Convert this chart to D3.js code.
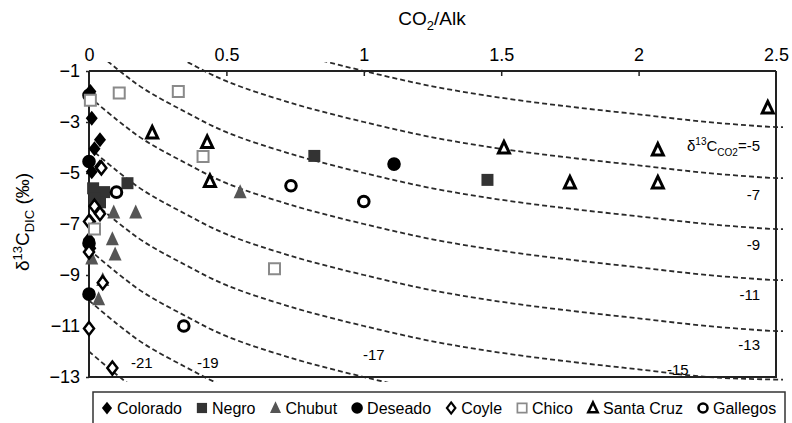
<!DOCTYPE html>
<html><head><meta charset="utf-8">
<script src="https://cdn.jsdelivr.net/npm/d3@7"></script>
<style>
html,body{margin:0;padding:0;background:#fff;}
text{font-family:"Liberation Sans",Arial,Helvetica,sans-serif;fill:#000;}
</style></head>
<body><svg id="c" width="792" height="423"></svg>
<script>
// ---- data ----
const xTicks = [0, 0.5, 1, 1.5, 2, 2.5];
const yTicks = [-1, -3, -5, -7, -9, -11, -13];
const seriesNames = ["Colorado","Negro","Chubut","Deseado","Coyle","Chico","Santa Cruz","Gallegos"];
const colorado = [[0.005,-1.8],[0.01,-2.85],[0.04,-3.7],[0.02,-4.05],[0.04,-4.75],[0.01,-4.95],[0.005,-6.9],[0.0,-7.6],[0.005,-7.95]];
const negro = [[0.82,-4.33],[1.45,-5.27],[0.14,-5.4],[0.015,-5.6],[0.055,-5.75],[0.04,-6.15],[0.02,-6.0]];
const chubut = [[0.55,-5.75],[0.17,-6.55],[0.09,-6.55],[0.085,-7.6],[0.095,-8.2],[0.01,-8.35],[0.05,-9.2],[0.035,-9.95]];
const deseado = [[0.0,-1.95],[0.0,-4.55],[1.11,-4.65],[0.0,-9.75],[0.0,-7.75]];
const coyle = [[0.045,-4.8],[0.02,-6.3],[0.04,-6.6],[0.0,-6.9],[0.0,-8.1],[0.05,-9.3],[0.0,-11.1],[0.085,-12.65]];
const chico = [[0.11,-1.86],[0.325,-1.8],[0.005,-2.15],[0.415,-4.35],[0.675,-8.75],[0.02,-7.2]];
const santaCruz = [[0.23,-3.43],[0.43,-3.8],[0.44,-5.33],[1.51,-4.02],[1.75,-5.39],[2.07,-5.39],[2.07,-4.1],[2.47,-2.45]];
const gallegos = [[0.1,-5.75],[0.735,-5.5],[1.0,-6.12],[0.345,-11.0]];

// dashed reference curves (delta13C_DIC read along CO2/Alk grid)
const curveR = [0,0.1,0.2,0.35,0.5,0.75,1,1.25,1.5,1.75,2,2.25,2.5,2.53];
const curveLabels = ["-5","-7","-9","-11","-13","-15","-17","-19","-21"];
const curveM5  = [4.0,3.1,2.3,1.4,0.6,-0.3,-1.0,-1.6,-2.05,-2.4,-2.7,-3.0,-3.2,-3.2];
const curveM7  = [2.0,1.1,0.3,-0.6,-1.4,-2.3,-3.0,-3.6,-4.05,-4.4,-4.7,-5.0,-5.2,-5.2];
const curveM9  = [0.0,-0.9,-1.7,-2.6,-3.4,-4.3,-5.0,-5.6,-6.05,-6.4,-6.7,-7.0,-7.2,-7.2];
const curveM11 = [-2.0,-2.9,-3.7,-4.6,-5.4,-6.3,-7.0,-7.6,-8.05,-8.4,-8.7,-9.0,-9.2,-9.2];
const curveM13 = [-4.0,-4.9,-5.7,-6.6,-7.4,-8.3,-9.0,-9.6,-10.05,-10.4,-10.7,-11.0,-11.2,-11.2];
const curveM15 = [-6.0,-6.9,-7.7,-8.6,-9.4,-10.3,-11.0,-11.6,-12.05,-12.4,-12.7,-13.0,-13.1,-13.1];
const curveM17 = [-8.0,-8.9,-9.7,-10.6,-11.4,-12.3,-13.0,-13.6,-14.05,-14.4,-14.7,-15.0,-15.2,-15.2];
const curveM19 = [-10.0,-10.9,-11.7,-12.6,-13.4,-14.3,-15.0,-15.6,-16.05,-16.4,-16.7,-17.0,-17.2,-17.2];
const curveM21 = [-12.0,-12.9,-13.7,-14.6,-15.4,-16.3,-17.0,-17.6,-18.05,-18.4,-18.7,-19.0,-19.2,-19.2];

// ---- drawing ----
const svg = d3.select("#c");
const x = d3.scaleLinear().domain([0,2.5]).range([89,776]);
const y = d3.scaleLinear().domain([-1,-13]).range([71,377]);

// curves
svg.append("clipPath").attr("id","cc").append("rect")
  .attr("x",89).attr("y",62).attr("width",694).attr("height",320);
const curves = [curveM5,curveM7,curveM9,curveM11,curveM13,curveM15,curveM17,curveM19,curveM21];
const line = d3.line().x((d,i)=>x(curveR[i])).y(d=>y(d)).curve(d3.curveCatmullRom);
svg.append("g").attr("clip-path","url(#cc)").selectAll("path").data(curves).join("path")
  .attr("d",d=>line(d)).attr("fill","none").attr("stroke","#2a2a2a")
  .attr("stroke-width",1.8).attr("stroke-dasharray","5,3");

// axes
const gx = svg.append("g").attr("transform","translate(0,71)")
  .call(d3.axisTop(x).tickValues(xTicks).tickFormat(d3.format("")).tickSize(-5).tickPadding(10));
gx.select(".domain").attr("stroke","#222").attr("stroke-width",2).attr("d","M89,0H776");
gx.selectAll(".tick line").attr("stroke","#222").attr("stroke-width",1.5);
gx.selectAll(".tick").filter(d=>d===0||d===2.5).select("line").remove();
gx.selectAll("text").style("font-size","18px").attr("fill","#000").attr("y",-10);

const gy = svg.append("g").attr("transform","translate(89,0)")
  .call(d3.axisLeft(y).tickValues(yTicks).tickFormat(d3.format("")).tickSize(3).tickPadding(6));
gy.select(".domain").attr("stroke","#222").attr("stroke-width",2).attr("d","M0,71V377");
gy.selectAll(".tick line").attr("stroke","#222").attr("stroke-width",1.5);
gy.selectAll("text").style("font-size","18px").attr("fill","#000");

// frame right & bottom
svg.append("path").attr("d",`M${x(0)},${y(-13)}H${x(2.5)}V${y(-1)}`)
  .attr("fill","none").attr("stroke","#222").attr("stroke-width",2);

// titles
const xt = svg.append("text").attr("x",432).attr("y",25).attr("text-anchor","middle").style("font-size","19px");
xt.append("tspan").text("CO");
xt.append("tspan").text("2").attr("dy",5).style("font-size","13px");
xt.append("tspan").text("/Alk").attr("dy",-5);

const yt = svg.append("text").attr("transform","translate(29,222) rotate(-90)").attr("text-anchor","middle").style("font-size","19px");
yt.append("tspan").text("δ");
yt.append("tspan").text("13").attr("dy",-7).style("font-size","13px");
yt.append("tspan").text("C").attr("dy",7);
yt.append("tspan").text("DIC").attr("dy",5).style("font-size","13px");
yt.append("tspan").text(" (‰)").attr("dy",-5);

// curve labels
const lab = svg.append("g").style("font-size","15px");
const l5 = lab.append("text").attr("x",760).attr("y",151).attr("text-anchor","end");
l5.append("tspan").text("δ");
l5.append("tspan").text("13").attr("dy",-6).style("font-size","10px");
l5.append("tspan").text("C").attr("dy",6);
l5.append("tspan").text("CO2").attr("dy",5).style("font-size","10px");
l5.append("tspan").text("=-5").attr("dy",-5);
const labPos = [null,[760,200,"end"],[760,250,"end"],[760,300,"end"],[760,350,"end"],[667,375,"start"],[363,360,"start"],[197,368,"start"],[131,368,"start"]];
curveLabels.forEach((t,i)=>{ if(i===0) return; const p=labPos[i];
  lab.append("text").attr("x",p[0]).attr("y",p[1]).attr("text-anchor",p[2]).text(t); });

// markers
const shapes = {
  diamondF: "M0,-7.5L6,0L0,7.5L-6,0Z",
  diamondO: "M0,-6.5L5,0L0,6.5L-5,0Z",
  squareF: "M-6,-6H6V6H-6Z",
  squareO: "M-5.5,-5.5H5.5V5.5H-5.5Z",
  triF: "M0,-8L6.5,6L-6.5,6Z",
  triO: "M0,-6.5L5.5,5L-5.5,5Z",
  circF: d3.symbol(d3.symbolCircle, Math.PI*6.8*6.8)(),
  circO: d3.symbol(d3.symbolCircle, Math.PI*5.3*5.3)()
};
const styles = [
  {d:shapes.diamondF, fill:"#000", stroke:"none", sw:0},
  {d:shapes.squareF, fill:"#333", stroke:"none", sw:0},
  {d:shapes.triF, fill:"#555", stroke:"none", sw:0},
  {d:shapes.circF, fill:"#000", stroke:"none", sw:0},
  {d:shapes.diamondO, fill:"#fff", stroke:"#000", sw:2.5},
  {d:shapes.squareO, fill:"#fff", stroke:"#8a8a8a", sw:2},
  {d:shapes.triO, fill:"#fff", stroke:"#000", sw:3},
  {d:shapes.circO, fill:"#fff", stroke:"#000", sw:3}
];
const allSeries = [colorado,negro,chubut,deseado,coyle,chico,santaCruz,gallegos];
allSeries.forEach((s,i)=>{
  const st = styles[i];
  svg.append("g").selectAll("path").data(s).join("path")
    .attr("d",st.d).attr("transform",d=>`translate(${x(d[0])},${y(d[1])})`)
    .attr("fill",st.fill).attr("stroke",st.stroke).attr("stroke-width",st.sw);
});

// legend
svg.append("rect").attr("x",93).attr("y",392).attr("width",692).attr("height",40)
  .attr("fill","#fff").attr("stroke","#333").attr("stroke-width",1.5);
const lg = svg.append("g");
let lx = 101;
seriesNames.forEach((n,i)=>{
  const st = styles[i];
  lg.append("path").attr("d",st.d).attr("transform",`translate(${lx+6},408) scale(0.85)`)
    .attr("fill",st.fill).attr("stroke",st.stroke).attr("stroke-width",st.sw);
  const t = lg.append("text").attr("x",lx+16).attr("y",414).style("font-size","16px").text(n);
  lx += 16 + t.node().getComputedTextLength() + 14;
});
</script></body></html>
